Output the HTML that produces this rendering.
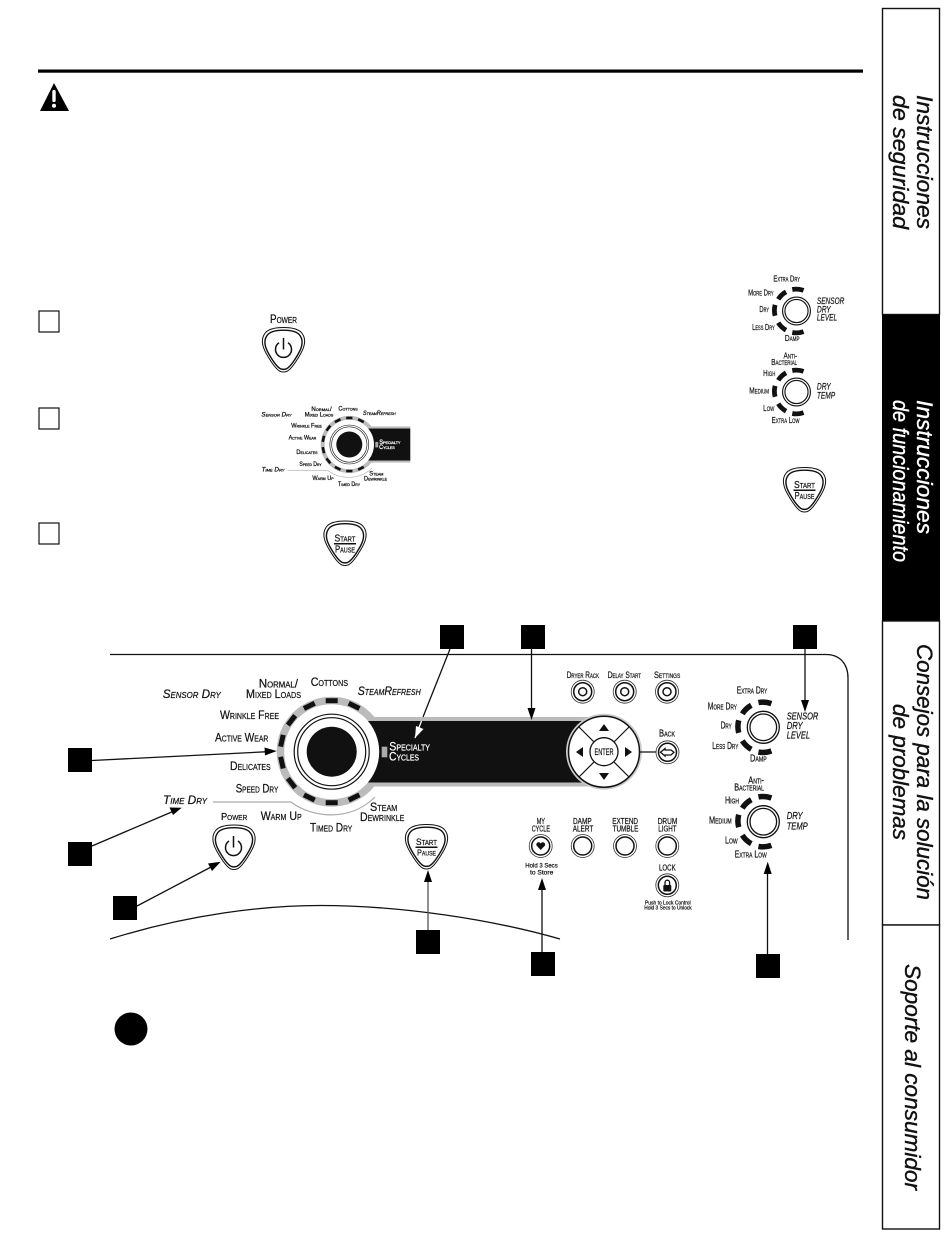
<!DOCTYPE html>
<html><head><meta charset="utf-8"><style>
html,body{margin:0;padding:0;background:#fff}
svg{display:block}
text{font-family:"Liberation Sans",sans-serif;fill:#111;stroke:#111;stroke-width:.22}
.c{font-variant:small-caps;font-size:12px}
.n{font-variant:small-caps;font-size:10px}
.i{font-style:italic;font-size:10.5px}
.t{font-style:italic;font-size:22px;stroke-width:.4}
.w{fill:#fff;stroke:#fff}
.sm text{stroke-width:.5}
</style></head><body>
<svg xmlns="http://www.w3.org/2000/svg" width="950" height="1241" viewBox="0 0 950 1241">
<defs>
<path id="pk" d="M0,-22.5 C8,-22.5 16,-21 19,-16 C23,-10 21,-3 17,4 C13,11 7,20 3,21.5 Q0,22.5 -3,21.5 C-7,20 -13,11 -17,4 C-21,-3 -23,-10 -19,-16 C-16,-21 -8,-22.5 0,-22.5Z"/>
<g id="pick"><use href="#pk" fill="#fff" stroke="#111" stroke-width="1"/><use href="#pk" transform="scale(.88)" fill="#fff" stroke="#111" stroke-width="1.6"/></g>
<g id="bt"><circle r="11.5" fill="#fff" stroke="#333" stroke-width=".8"/><circle r="9" fill="#fff" stroke="#111" stroke-width="1.5"/></g>
<g id="bd"><use href="#bt"/><circle r="4" fill="#fff" stroke="#111" stroke-width="1.5"/></g>
<g id="arcs" fill="none" stroke="#111" stroke-width="5.5">
<path d="M-7,-24.2 A25,25 0 0 1 6,-24.3" transform="rotate(5)"/>
<path d="M-21,-13.5 A25,25 0 0 1 -12,-22"/>
<path d="M-24.6,5.5 A25,25 0 0 1 -24.6,-7"/>
<path d="M-12,22 A25,25 0 0 1 -21,13.5"/>
<path d="M-7,24.2 A25,25 0 0 0 6,24.3" transform="rotate(-5)"/>
</g>
<g id="rr"><circle r="16" fill="#fff" stroke="#111" stroke-width="1.3"/><circle r="13.3" fill="#fff" stroke="#111" stroke-width="1.3"/></g>
<g id="dialshape">
<circle cx="331.7" cy="751.7" r="55" fill="#bbb"/>
<rect x="365" y="717" width="84" height="4" fill="#bbb"/><rect x="365" y="782.5" width="84" height="4" fill="#bbb"/>
<rect x="360" y="721" width="89" height="61.5" fill="#111"/>
<g fill="#111" transform="translate(331.7,751.7)">
<rect x="-6" y="-53.5" width="12" height="5" transform="rotate(26)"/><rect x="-6" y="-53.5" width="12" height="5"/><rect x="-6" y="-53.5" width="12" height="5" transform="rotate(-26)"/><rect x="-6" y="-53.5" width="12" height="5" transform="rotate(-52)"/><rect x="-6" y="-53.5" width="12" height="5" transform="rotate(-77.6)"/><rect x="-6" y="-53.5" width="12" height="5" transform="rotate(-102.4)"/><rect x="-6" y="-53.5" width="12" height="5" transform="rotate(-128)"/><rect x="-6" y="-53.5" width="12" height="5" transform="rotate(-154)"/><rect x="-6" y="-53.5" width="12" height="5" transform="rotate(180)"/><rect x="-6" y="-53.5" width="12" height="5" transform="rotate(154)"/>
</g>
<circle cx="331.7" cy="751.7" r="47.5" fill="#fff"/>
<circle cx="331.7" cy="751.7" r="37.5" fill="#fff" stroke="#111" stroke-width="1.2"/>
<circle cx="331.7" cy="751.7" r="34" fill="#fff" stroke="#111" stroke-width="1.2"/>
<circle cx="331.7" cy="751.7" r="25" fill="#111"/>
<rect x="381.7" y="746.7" width="5.6" height="10.6" fill="#aaa"/>
<path d="M213,802 H291 C312,818 350,822 375,797" fill="none" stroke="#aaa" stroke-width="1.2"/>
</g>
<g id="sensorshape"><use href="#arcs" x="763.3" y="727.3"/><use href="#rr" x="763.3" y="727.3"/></g>
<g id="tempshape"><use href="#arcs" x="763.3" y="821.7"/><use href="#rr" x="763.3" y="821.7"/></g>
</defs>

<!-- header -->
<rect x="38" y="69.5" width="825" height="3.2" fill="#000"/>
<path d="M54,83 L69,111 H40Z" fill="#000"/>
<rect x="52.3" y="90" width="3.4" height="12" rx="1.5" fill="#fff"/><circle cx="54" cy="105.8" r="2" fill="#fff"/>

<!-- number boxes -->
<g fill="#fff" stroke="#111" stroke-width="1.2">
<rect x="39" y="311" width="20" height="21"/><rect x="39" y="408" width="20" height="21"/><rect x="39" y="523" width="20" height="21"/>
</g>

<!-- top icons -->
<text class="c" x="270" y="323" textLength="27" lengthAdjust="spacingAndGlyphs">Power</text>
<use href="#pick" x="283.5" y="350"/>
<path d="M279,342.8 A8,8 0 1 0 288,342.8 M283.5,338 V349.5" fill="none" stroke="#111" stroke-width="1.5"/>

<use href="#pick" x="345" y="543.5"/>
<text x="345" y="541.5" text-anchor="middle" font-size="10" font-variant="small-caps" textLength="21" lengthAdjust="spacingAndGlyphs">Start</text><rect x="334" y="543" width="22" height="1.5" fill="#111"/><text x="345" y="552.5" text-anchor="middle" font-size="10" font-variant="small-caps" textLength="20" lengthAdjust="spacingAndGlyphs">Pause</text>

<use href="#pick" x="804.5" y="490"/>
<text x="804.5" y="488" text-anchor="middle" font-size="10" font-variant="small-caps" textLength="21" lengthAdjust="spacingAndGlyphs">Start</text><rect x="793.5" y="489.5" width="22" height="1.5" fill="#111"/><text x="804.5" y="499" text-anchor="middle" font-size="10" font-variant="small-caps" textLength="20" lengthAdjust="spacingAndGlyphs">Pause</text>

<!-- small main dial -->
<g class="sm" transform="translate(349.3,444.5) scale(.52) translate(-331.7,-751.7)">
<use href="#dialshape"/>
<text class="c" x="258.7" y="687.7" textLength="39.3" lengthAdjust="spacingAndGlyphs">Normal/</text>
<text class="c" x="246" y="698" textLength="55" lengthAdjust="spacingAndGlyphs">Mixed Loads</text>
<text class="c" x="310.7" y="686" textLength="37.3" lengthAdjust="spacingAndGlyphs">Cottons</text>
<text class="c" font-style="italic" x="357.7" y="695" textLength="63" lengthAdjust="spacingAndGlyphs">SteamRefresh</text>
<text class="c" font-style="italic" x="162.7" y="698" textLength="58" lengthAdjust="spacingAndGlyphs">Sensor Dry</text>
<text class="c" x="220" y="719" textLength="59" lengthAdjust="spacingAndGlyphs">Wrinkle Free</text>
<text class="c" x="215" y="741.7" textLength="53.3" lengthAdjust="spacingAndGlyphs">Active Wear</text>
<text class="c" x="230" y="770" textLength="40.7" lengthAdjust="spacingAndGlyphs">Delicates</text>
<text class="c" x="235.7" y="792.7" textLength="42.6" lengthAdjust="spacingAndGlyphs">Speed Dry</text>
<text class="c" font-style="italic" x="163" y="804" textLength="44" lengthAdjust="spacingAndGlyphs">Time Dry</text>
<text class="c" x="260.7" y="820" textLength="41" lengthAdjust="spacingAndGlyphs">Warm Up</text>
<text class="c" x="310" y="831.7" textLength="42.3" lengthAdjust="spacingAndGlyphs">Timed Dry</text>
<text class="c" x="370" y="811" textLength="27.3" lengthAdjust="spacingAndGlyphs">Steam</text>
<text class="c" x="360" y="821" textLength="44.3" lengthAdjust="spacingAndGlyphs">Dewrinkle</text>
<text class="c w" x="389.3" y="750.7" textLength="40.7" lengthAdjust="spacingAndGlyphs">Specialty</text>
<text class="c w" x="389" y="760.7" textLength="30" lengthAdjust="spacingAndGlyphs">Cycles</text>
</g>

<!-- small sensor/temp -->
<g transform="translate(796.5,311) scale(.87) translate(-763.3,-727.3)">
<use href="#sensorshape"/>
<text class="n" x="736.7" y="693.3" textLength="30.6" lengthAdjust="spacingAndGlyphs">Extra Dry</text>
<text class="n" x="707.7" y="709.3" textLength="29.3" lengthAdjust="spacingAndGlyphs">More Dry</text>
<text class="n" x="720.7" y="728.3" textLength="11" lengthAdjust="spacingAndGlyphs">Dry</text>
<text class="n" x="712.3" y="749" textLength="26" lengthAdjust="spacingAndGlyphs">Less Dry</text>
<text class="n" x="750" y="761.7" textLength="16.7" lengthAdjust="spacingAndGlyphs">Damp</text>
<text class="i" x="786.7" y="719.5" textLength="31.6" lengthAdjust="spacingAndGlyphs">SENSOR</text>
<text class="i" x="786.7" y="729" textLength="16" lengthAdjust="spacingAndGlyphs">DRY</text>
<text class="i" x="786.7" y="738.3" textLength="23.3" lengthAdjust="spacingAndGlyphs">LEVEL</text>
</g>
<g transform="translate(796.5,392) scale(.87) translate(-763.3,-821.7)">
<use href="#tempshape"/>
<text class="n" x="748.3" y="783.3" textLength="15.7" lengthAdjust="spacingAndGlyphs">Anti-</text>
<text class="n" x="734.3" y="790.5" textLength="29.7" lengthAdjust="spacingAndGlyphs">Bacterial</text>
<text class="n" x="725" y="803.3" textLength="14" lengthAdjust="spacingAndGlyphs">High</text>
<text class="n" x="709" y="823.3" textLength="22.7" lengthAdjust="spacingAndGlyphs">Medium</text>
<text class="n" x="725" y="843.3" textLength="12.7" lengthAdjust="spacingAndGlyphs">Low</text>
<text class="n" x="734.7" y="857.3" textLength="32" lengthAdjust="spacingAndGlyphs">Extra Low</text>
<text class="i" x="786.7" y="819" textLength="16" lengthAdjust="spacingAndGlyphs">DRY</text>
<text class="i" x="786.7" y="829.3" textLength="21" lengthAdjust="spacingAndGlyphs">TEMP</text>
</g>

<!-- panel outline -->
<path d="M110,654.5 H826 C840,654.5 848,664 848,678 V940" fill="none" stroke="#111" stroke-width="1.3"/>
<path d="M110,939 C190,914 265,905.5 320,905.5 C400,905.5 490,919 560,939" fill="none" stroke="#111" stroke-width="1.3"/>

<!-- main dial -->
<use href="#dialshape"/>
<rect x="449" y="717" width="155" height="4" fill="#bbb"/><rect x="449" y="782.5" width="155" height="4" fill="#bbb"/>
<rect x="449" y="721" width="155" height="61.5" fill="#111"/>
<text class="c" x="258.7" y="687.7" textLength="39.3" lengthAdjust="spacingAndGlyphs">Normal/</text>
<text class="c" x="246" y="698" textLength="55" lengthAdjust="spacingAndGlyphs">Mixed Loads</text>
<text class="c" x="310.7" y="686" textLength="37.3" lengthAdjust="spacingAndGlyphs">Cottons</text>
<text class="c" font-style="italic" x="357.7" y="695" textLength="63" lengthAdjust="spacingAndGlyphs">SteamRefresh</text>
<text class="c" font-style="italic" x="162.7" y="698" textLength="58" lengthAdjust="spacingAndGlyphs">Sensor Dry</text>
<text class="c" x="220" y="719" textLength="59" lengthAdjust="spacingAndGlyphs">Wrinkle Free</text>
<text class="c" x="215" y="741.7" textLength="53.3" lengthAdjust="spacingAndGlyphs">Active Wear</text>
<text class="c" x="230" y="770" textLength="40.7" lengthAdjust="spacingAndGlyphs">Delicates</text>
<text class="c" x="235.7" y="792.7" textLength="42.6" lengthAdjust="spacingAndGlyphs">Speed Dry</text>
<text class="c" font-style="italic" x="163" y="804" textLength="44" lengthAdjust="spacingAndGlyphs">Time Dry</text>
<text class="c" x="260.7" y="820" textLength="41" lengthAdjust="spacingAndGlyphs">Warm Up</text>
<text class="c" x="310" y="831.7" textLength="42.3" lengthAdjust="spacingAndGlyphs">Timed Dry</text>
<text class="c" x="370" y="811" textLength="27.3" lengthAdjust="spacingAndGlyphs">Steam</text>
<text class="c" x="360" y="821" textLength="44.3" lengthAdjust="spacingAndGlyphs">Dewrinkle</text>
<text class="c w" x="389.3" y="750.7" textLength="40.7" lengthAdjust="spacingAndGlyphs">Specialty</text>
<text class="c w" x="389" y="760.7" textLength="30" lengthAdjust="spacingAndGlyphs">Cycles</text>

<!-- power / start on panel -->
<text class="n" x="221" y="820" textLength="26.3" lengthAdjust="spacingAndGlyphs">Power</text>
<use href="#pick" x="234" y="847.5"/>
<path d="M229,841 A8,8 0 1 0 238,841 M233.5,836 V847.5" fill="none" stroke="#111" stroke-width="1.5"/>
<use href="#pick" x="426.5" y="847"/>
<text x="426.5" y="845" text-anchor="middle" font-size="9.5" font-variant="small-caps" textLength="21" lengthAdjust="spacingAndGlyphs">Start</text><rect x="415.5" y="846.5" width="22" height="1.5" fill="#111"/><text x="426.5" y="855.5" text-anchor="middle" font-size="8.5" font-variant="small-caps" textLength="19" lengthAdjust="spacingAndGlyphs">Pause</text>

<!-- nav -->
<circle cx="604" cy="751.7" r="38" fill="#ccc"/>
<circle cx="604" cy="751.7" r="35.5" fill="#fff" stroke="#111" stroke-width="1.5"/>
<path d="M579,727 L629,777 M629,727 L579,777" stroke="#111" stroke-width="1.2"/>
<circle cx="604" cy="751.7" r="14" fill="#fff" stroke="#111" stroke-width="1.3"/>
<text x="604" y="755" text-anchor="middle" font-size="9" textLength="19" lengthAdjust="spacingAndGlyphs">ENTER</text>
<path d="M604,724 L609,731 H599Z M604,780 L609,773 H599Z M576,752 L583,747 V757Z M632,752 L625,747 V757Z" fill="#111"/>
<path d="M639,752 H657" stroke="#111" stroke-width="1.3"/>
<use href="#bt" x="667.5" y="752.3"/>
<path d="M660.5,752.3 L665,748.5 V750 H671 L674,752.3 L671,755 H665 V756Z" fill="none" stroke="#111" stroke-width="1.3"/>
<text class="n" x="659" y="736.7" textLength="16" lengthAdjust="spacingAndGlyphs">Back</text>

<use href="#bd" x="582.7" y="691.7"/><use href="#bd" x="624.7" y="691.7"/><use href="#bd" x="667" y="691.7"/>
<text class="n" style="font-size:9px" x="566.7" y="678" textLength="32.3" lengthAdjust="spacingAndGlyphs">Dryer Rack</text>
<text class="n" style="font-size:9px" x="607.7" y="678" textLength="33.3" lengthAdjust="spacingAndGlyphs">Delay Start</text>
<text class="n" style="font-size:9px" x="654" y="678" textLength="26.3" lengthAdjust="spacingAndGlyphs">Settings</text>

<use href="#bt" x="540.7" y="846"/><use href="#bt" x="582.7" y="846"/><use href="#bt" x="625" y="846"/><use href="#bt" x="667.3" y="846"/><use href="#bt" x="667.3" y="885.3"/>
<path d="M540.7,850 L536.5,845.5 C535.5,842.5 539.5,841 540.7,843.5 C542,841 546,842.5 545,845.5Z" fill="#111"/>
<rect x="663.3" y="885" width="8" height="6.5" rx="1" fill="#111"/><path d="M665,885 V882.5 A2.3,2.3 0 0 1 669.6,882.5 V885" fill="none" stroke="#111" stroke-width="1.3"/>
<text x="536.7" y="824" font-size="8" textLength="8.3" lengthAdjust="spacingAndGlyphs">MY</text>
<text x="531.7" y="831.7" font-size="8" textLength="18.3" lengthAdjust="spacingAndGlyphs">CYCLE</text>
<text x="573" y="824" font-size="8" textLength="18.7" lengthAdjust="spacingAndGlyphs">DAMP</text>
<text x="572.7" y="831.7" font-size="8" textLength="20.6" lengthAdjust="spacingAndGlyphs">ALERT</text>
<text x="612.3" y="824" font-size="8" textLength="25.7" lengthAdjust="spacingAndGlyphs">EXTEND</text>
<text x="612.6" y="831.7" font-size="8" textLength="25.7" lengthAdjust="spacingAndGlyphs">TUMBLE</text>
<text x="657.7" y="824" font-size="8" textLength="19.6" lengthAdjust="spacingAndGlyphs">DRUM</text>
<text x="658.3" y="831.7" font-size="8" textLength="18.3" lengthAdjust="spacingAndGlyphs">LIGHT</text>
<text x="659" y="870.7" font-size="8" textLength="16.7" lengthAdjust="spacingAndGlyphs">LOCK</text>
<text x="525.3" y="867.3" font-size="6.5" textLength="32.4" lengthAdjust="spacingAndGlyphs">Hold 3 Secs</text>
<text x="530" y="874.3" font-size="6.5" textLength="23.3" lengthAdjust="spacingAndGlyphs">to Store</text>
<text x="645" y="904.3" font-size="5.5" textLength="45.7" lengthAdjust="spacingAndGlyphs">Push to Lock Control</text>
<text x="644.3" y="909.5" font-size="5.5" textLength="47.4" lengthAdjust="spacingAndGlyphs">Hold 3 Secs to Unlock</text>

<!-- sensor & temp -->
<use href="#sensorshape"/><use href="#tempshape"/>
<text class="n" x="736.7" y="693.3" textLength="30.6" lengthAdjust="spacingAndGlyphs">Extra Dry</text>
<text class="n" x="707.7" y="709.3" textLength="29.3" lengthAdjust="spacingAndGlyphs">More Dry</text>
<text class="n" x="720.7" y="728.3" textLength="11" lengthAdjust="spacingAndGlyphs">Dry</text>
<text class="n" x="712.3" y="749" textLength="26" lengthAdjust="spacingAndGlyphs">Less Dry</text>
<text class="n" x="750" y="761.7" textLength="16.7" lengthAdjust="spacingAndGlyphs">Damp</text>
<text class="i" x="786.7" y="719.5" textLength="31.6" lengthAdjust="spacingAndGlyphs">SENSOR</text>
<text class="i" x="786.7" y="729" textLength="16" lengthAdjust="spacingAndGlyphs">DRY</text>
<text class="i" x="786.7" y="738.3" textLength="23.3" lengthAdjust="spacingAndGlyphs">LEVEL</text>
<text class="n" x="748.3" y="783.3" textLength="15.7" lengthAdjust="spacingAndGlyphs">Anti-</text>
<text class="n" x="734.3" y="790.5" textLength="29.7" lengthAdjust="spacingAndGlyphs">Bacterial</text>
<text class="n" x="725" y="803.3" textLength="14" lengthAdjust="spacingAndGlyphs">High</text>
<text class="n" x="709" y="823.3" textLength="22.7" lengthAdjust="spacingAndGlyphs">Medium</text>
<text class="n" x="725" y="843.3" textLength="12.7" lengthAdjust="spacingAndGlyphs">Low</text>
<text class="n" x="734.7" y="857.3" textLength="32" lengthAdjust="spacingAndGlyphs">Extra Low</text>
<text class="i" x="786.7" y="819" textLength="16" lengthAdjust="spacingAndGlyphs">DRY</text>
<text class="i" x="786.7" y="829.3" textLength="21" lengthAdjust="spacingAndGlyphs">TEMP</text>

<!-- black callout squares -->
<g fill="#000">
<rect x="440" y="625" width="24" height="24"/><rect x="521" y="625" width="24" height="24"/><rect x="793" y="625" width="24" height="24"/>
<rect x="68" y="748" width="24" height="24"/><rect x="68" y="842" width="24" height="24"/><rect x="113" y="896" width="24" height="24"/>
<rect x="416" y="930" width="24" height="24"/><rect x="531" y="952" width="24" height="24"/><rect x="756" y="954" width="24" height="24"/>
<circle cx="131" cy="1029" r="16.5"/>
</g>

<!-- arrows -->
<g stroke="#111" stroke-width="1.3" fill="none">
<path d="M450,649 L423,717"/><path d="M531.5,649 V712"/><path d="M805,649 V704"/>
<path d="M92,760.5 L268,751.7"/><path d="M92,846 L174,811"/><path d="M137,906 L213,866"/>
<path d="M428,930 V878" stroke="#555"/><path d="M542,952 V887"/><path d="M767.5,954 V870"/>
</g>
<path d="M423,717 L421.5,721" stroke="#bbb" stroke-width="1.3"/>
<path d="M421.5,721 L415,738" stroke="#fff" stroke-width="1.3"/>
<path d="M415,738 L416,726 L423.5,729Z" fill="#fff"/>
<g fill="#000">
<path d="M531.5,720 L527.5,708 H535.5Z"/>
<path d="M805,712 L801,700 H809Z"/>
<path d="M276.7,751 L265,755.5 L264.5,747.5Z"/>
<path d="M181.7,807.7 L173,815 L169.5,807.5Z"/>
<path d="M220.7,861.7 L212,871 L208,863.5Z"/>
<path d="M428,870 L424,882 H432Z"/>
<path d="M542,878 L538,890 H546Z"/>
<path d="M767.7,861.7 L763.7,874 H771.7Z"/>
</g>

<!-- side tabs -->
<rect x="882.5" y="8.5" width="57" height="306" fill="#fff" stroke="#111" stroke-width="1.4"/>
<rect x="882" y="315" width="58" height="306" fill="#000"/>
<rect x="882.5" y="621" width="57" height="304" fill="#fff" stroke="#111" stroke-width="1.4"/>
<rect x="882.5" y="925" width="57" height="304" fill="#fff" stroke="#111" stroke-width="1.4"/>
<g text-anchor="middle">
<text class="t" transform="translate(917,162) rotate(90)" textLength="134" lengthAdjust="spacingAndGlyphs">Instrucciones</text>
<text class="t" transform="translate(893,162) rotate(90)" textLength="134" lengthAdjust="spacingAndGlyphs">de seguridad</text>
<text class="t w" transform="translate(917,467) rotate(90)" textLength="134" lengthAdjust="spacingAndGlyphs">Instrucciones</text>
<text class="t w" transform="translate(893,481) rotate(90)" textLength="162" lengthAdjust="spacingAndGlyphs">de funcionamiento</text>
<text class="t" transform="translate(917,772) rotate(90)" textLength="256" lengthAdjust="spacingAndGlyphs">Consejos para la solución</text>
<text class="t" transform="translate(893,772) rotate(90)" textLength="136" lengthAdjust="spacingAndGlyphs">de problemas</text>
<text class="t" transform="translate(905,1077) rotate(90)" textLength="226" lengthAdjust="spacingAndGlyphs">Soporte al consumidor</text>
</g>
</svg>
</body></html>
